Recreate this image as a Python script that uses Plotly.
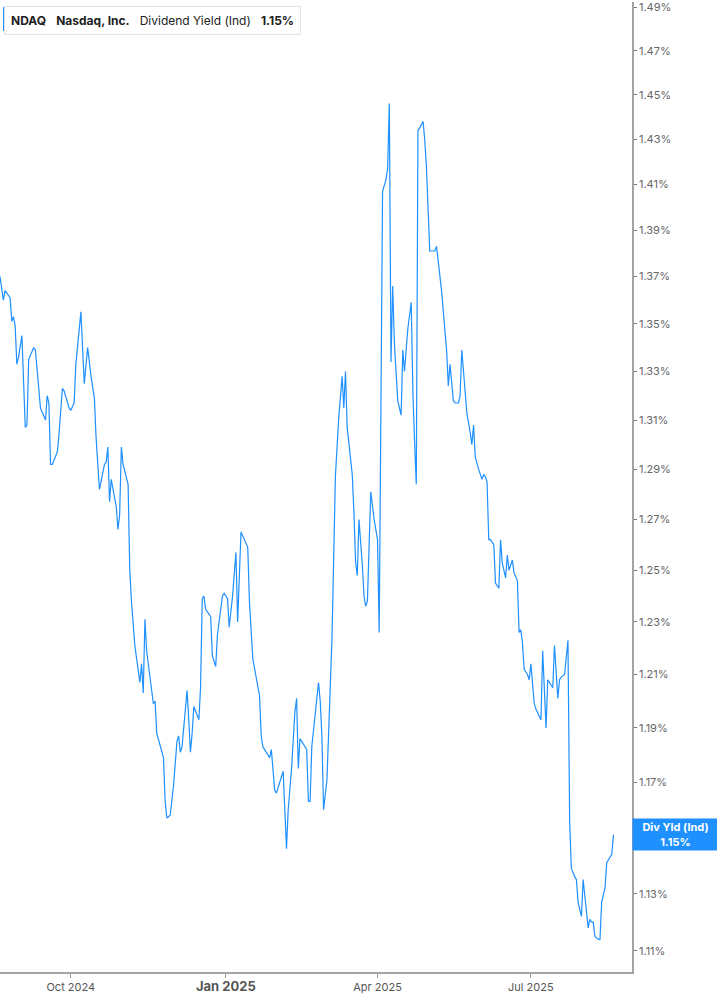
import math
import plotly.graph_objects as go

BLUE = '#1E90FF'
AXIS = '#a3a3a3'

# ---- data: NDAQ indicated dividend yield (%) ----
DATES = [
    '2024-08-20', '2024-08-22', '2024-08-23', '2024-08-26', '2024-08-27', '2024-08-28', '2024-08-29',
    '2024-08-30', '2024-08-31', '2024-09-02', '2024-09-04', '2024-09-05', '2024-09-06', '2024-09-09',
    '2024-09-10', '2024-09-11', '2024-09-13', '2024-09-16', '2024-09-17', '2024-09-18', '2024-09-19',
    '2024-09-20', '2024-09-23', '2024-09-24', '2024-09-26', '2024-09-27', '2024-09-30', '2024-10-01',
    '2024-10-03', '2024-10-04', '2024-10-07', '2024-10-09', '2024-10-11', '2024-10-13', '2024-10-15',
    '2024-10-16', '2024-10-18', '2024-10-21', '2024-10-22', '2024-10-23', '2024-10-24', '2024-10-25',
    '2024-10-28', '2024-10-29', '2024-10-30', '2024-10-31', '2024-11-01', '2024-11-04', '2024-11-05',
    '2024-11-06', '2024-11-08', '2024-11-11', '2024-11-12', '2024-11-13', '2024-11-14', '2024-11-15',
    '2024-11-19', '2024-11-20', '2024-11-21', '2024-11-25', '2024-11-26', '2024-11-27', '2024-11-29',
    '2024-12-01', '2024-12-03', '2024-12-04', '2024-12-05', '2024-12-06', '2024-12-09', '2024-12-10',
    '2024-12-11', '2024-12-12', '2024-12-13', '2024-12-16', '2024-12-17', '2024-12-18', '2024-12-19',
    '2024-12-20', '2024-12-23', '2024-12-24', '2024-12-26', '2024-12-27', '2024-12-30', '2024-12-31',
    '2025-01-02', '2025-01-03', '2025-01-05', '2025-01-07', '2025-01-08', '2025-01-10', '2025-01-14',
    '2025-01-15', '2025-01-16', '2025-01-17', '2025-01-21', '2025-01-22', '2025-01-23', '2025-01-27',
    '2025-01-28', '2025-01-30', '2025-01-31', '2025-02-04', '2025-02-06', '2025-02-07', '2025-02-09',
    '2025-02-11', '2025-02-12', '2025-02-13', '2025-02-14', '2025-02-18', '2025-02-19', '2025-02-20',
    '2025-02-21', '2025-02-23', '2025-02-25', '2025-02-26', '2025-02-27', '2025-02-28', '2025-03-02',
    '2025-03-05', '2025-03-06', '2025-03-07', '2025-03-09', '2025-03-11', '2025-03-12', '2025-03-13',
    '2025-03-14', '2025-03-17', '2025-03-18', '2025-03-19', '2025-03-20', '2025-03-21', '2025-03-23',
    '2025-03-24', '2025-03-25', '2025-03-26', '2025-03-28', '2025-03-30', '2025-04-01', '2025-04-02',
    '2025-04-04', '2025-04-06', '2025-04-07', '2025-04-08', '2025-04-09', '2025-04-10', '2025-04-11',
    '2025-04-13', '2025-04-15', '2025-04-16', '2025-04-17', '2025-04-19', '2025-04-21', '2025-04-22',
    '2025-04-23', '2025-04-24', '2025-04-25', '2025-04-26', '2025-04-28', '2025-04-29', '2025-04-30',
    '2025-05-02', '2025-05-03', '2025-05-05', '2025-05-06', '2025-05-08', '2025-05-09', '2025-05-11',
    '2025-05-12', '2025-05-13', '2025-05-14', '2025-05-16', '2025-05-17', '2025-05-19', '2025-05-20',
    '2025-05-21', '2025-05-23', '2025-05-24', '2025-05-26', '2025-05-27', '2025-05-28', '2025-05-29',
    '2025-05-31', '2025-06-02', '2025-06-03', '2025-06-04', '2025-06-05', '2025-06-06', '2025-06-07',
    '2025-06-08', '2025-06-09', '2025-06-10', '2025-06-12', '2025-06-13', '2025-06-14', '2025-06-16',
    '2025-06-17', '2025-06-18', '2025-06-20', '2025-06-21', '2025-06-23', '2025-06-24', '2025-06-25',
    '2025-06-26', '2025-06-27', '2025-06-29', '2025-06-30', '2025-07-01', '2025-07-02', '2025-07-03',
    '2025-07-04', '2025-07-07', '2025-07-08', '2025-07-10', '2025-07-11', '2025-07-14', '2025-07-15',
    '2025-07-16', '2025-07-17', '2025-07-18', '2025-07-19', '2025-07-21', '2025-07-23', '2025-07-24',
    '2025-07-25', '2025-07-27', '2025-07-28', '2025-07-29', '2025-07-31', '2025-08-01', '2025-08-02',
    '2025-08-04', '2025-08-05', '2025-08-06', '2025-08-07', '2025-08-08', '2025-08-10', '2025-08-11',
    '2025-08-12', '2025-08-13', '2025-08-14', '2025-08-15', '2025-08-17', '2025-08-18', '2025-08-19',
]
YIELD = [
    1.370, 1.360, 1.364, 1.361, 1.351, 1.353, 1.349,
    1.333, 1.336, 1.345, 1.307, 1.308, 1.335, 1.340,
    1.339, 1.331, 1.315, 1.310, 1.320, 1.317, 1.292,
    1.292, 1.297, 1.304, 1.323, 1.322, 1.315, 1.314,
    1.317, 1.333, 1.355, 1.325, 1.340, 1.328, 1.319,
    1.303, 1.282, 1.292, 1.293, 1.299, 1.277, 1.286,
    1.275, 1.266, 1.272, 1.299, 1.292, 1.284, 1.250,
    1.238, 1.221, 1.207, 1.214, 1.203, 1.231, 1.219,
    1.199, 1.200, 1.188, 1.179, 1.163, 1.157, 1.158,
    1.169, 1.185, 1.187, 1.181, 1.183, 1.204, 1.193,
    1.181, 1.188, 1.198, 1.193, 1.205, 1.239, 1.240,
    1.235, 1.232, 1.217, 1.213, 1.225, 1.240, 1.241,
    1.239, 1.228, 1.240, 1.257, 1.230, 1.265, 1.259,
    1.238, 1.224, 1.216, 1.202, 1.187, 1.183, 1.179,
    1.182, 1.167, 1.166, 1.174, 1.146, 1.160, 1.175,
    1.196, 1.201, 1.175, 1.186, 1.182, 1.163, 1.163,
    1.183, 1.195, 1.207, 1.200, 1.187, 1.160, 1.171,
    1.224, 1.261, 1.287, 1.311, 1.328, 1.315, 1.330,
    1.307, 1.288, 1.273, 1.253, 1.248, 1.270, 1.252,
    1.240, 1.236, 1.238, 1.281, 1.270, 1.262, 1.226,
    1.407, 1.412, 1.417, 1.446, 1.334, 1.366, 1.342,
    1.318, 1.312, 1.339, 1.330, 1.348, 1.359, 1.321,
    1.301, 1.284, 1.434, 1.435, 1.438, 1.430, 1.418,
    1.381, 1.381, 1.381, 1.383, 1.369, 1.364, 1.347,
    1.339, 1.324, 1.333, 1.318, 1.317, 1.317, 1.320,
    1.339, 1.321, 1.313, 1.305, 1.300, 1.308, 1.295,
    1.290, 1.286, 1.288, 1.287, 1.285, 1.262, 1.262,
    1.261, 1.260, 1.245, 1.243, 1.262, 1.253, 1.247,
    1.256, 1.250, 1.254, 1.249, 1.246, 1.226, 1.227,
    1.222, 1.212, 1.210, 1.208, 1.214, 1.207, 1.199,
    1.197, 1.193, 1.219, 1.190, 1.208, 1.205, 1.221,
    1.212, 1.201, 1.208, 1.209, 1.210, 1.223, 1.156,
    1.139, 1.136, 1.135, 1.127, 1.122, 1.135, 1.130,
    1.118, 1.121, 1.120, 1.120, 1.115, 1.114, 1.114,
    1.127, 1.130, 1.132, 1.141, 1.143, 1.144, 1.151,
]

# 1.15% sits under the last-value flag, so its label stays blank
Y_TICKS = [1.11, 1.13, 1.15, 1.17, 1.19, 1.21, 1.23, 1.25, 1.27, 1.29,
           1.31, 1.33, 1.35, 1.37, 1.39, 1.41, 1.43, 1.45, 1.47, 1.49]
Y_TICK_TEXT = ['1.11%', '1.13%', '', '1.17%', '1.19%', '1.21%', '1.23%', '1.25%', '1.27%', '1.29%',
               '1.31%', '1.33%', '1.35%', '1.37%', '1.39%', '1.41%', '1.43%', '1.45%', '1.47%', '1.49%']
X_TICKS = ['2024-10-01', '2025-01-01', '2025-04-01', '2025-07-01']
X_TICK_TEXT = ['Oct 2024', "<span style='font-size:13px'><b>Jan 2025</b></span>", 'Apr 2025', 'Jul 2025']

fig = go.Figure()
fig.add_trace(go.Scatter(x=DATES, y=YIELD, mode='lines', name='Div Yld (Ind)',
                         line=dict(color=BLUE, width=1.2)))

fig.update_layout(
    width=717, height=1005, margin=dict(l=0, r=85, t=0, b=33),
    paper_bgcolor='white', plot_bgcolor='white', showlegend=False,
    font=dict(family='Inter, Roboto, sans-serif', size=11, color='#555'),
    xaxis=dict(type='date', range=['2024-08-20', '2025-08-30'],
               tickvals=X_TICKS, ticktext=X_TICK_TEXT,
               ticks='outside', ticklen=4, tickcolor='#999',
               showline=True, linecolor=AXIS, linewidth=1.5,
               showgrid=False, zeroline=False,
               tickfont=dict(size=11, color='#555')),
    yaxis=dict(type='log', side='right',
               range=[math.log10(1.1027), math.log10(1.4926)],
               tickvals=Y_TICKS, ticktext=Y_TICK_TEXT,
               ticks='outside', ticklen=3, tickcolor='#777',
               ticklabeloverflow='allow',
               showline=True, linecolor=AXIS, linewidth=1.5,
               showgrid=False, zeroline=False,
               tickfont=dict(size=11, color='#666')),
)

# header chip, top-left
fig.add_annotation(
    xref='paper', yref='paper', x=0, y=1, xanchor='left', yanchor='top',
    xshift=4, yshift=-4, showarrow=False, align='left',
    text=('<b>NDAQ</b>&nbsp;&nbsp;&nbsp;<b>Nasdaq, Inc.</b>&nbsp;&nbsp;&nbsp;'
          'Dividend Yield (Ind)&nbsp;&nbsp;&nbsp;<b>1.15%</b>'),
    font=dict(family='Inter, Roboto, sans-serif', size=12, color='#222'),
    bgcolor='white', bordercolor='#e4e4e4', borderwidth=1, borderpad=6,
)
fig.add_shape(type='rect', xref='paper', yref='paper',
              xsizemode='pixel', ysizemode='pixel', xanchor=0, yanchor=1,
              x0=3, x1=6, y0=-5, y1=-29, fillcolor=BLUE, line=dict(width=0))

# last-value flag on the right axis
fig.add_annotation(
    xref='paper', yref='y', x=1, y=math.log10(YIELD[-1]), xanchor='left', yanchor='middle',
    showarrow=False, text='<b>Div Yld (Ind)</b><br><b>1.15%</b>',
    font=dict(family='Inter, Roboto, sans-serif', size=11, color='white'),
    bgcolor=BLUE, width=85, height=31, borderpad=0, align='center',
)

fig.write_html("out.html", config={'displayModeBar': False},
               post_script="document.body.style.margin = '0';")
